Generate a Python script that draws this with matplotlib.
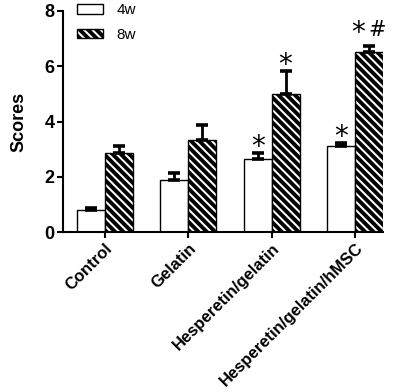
import matplotlib
matplotlib.use("Agg")
from matplotlib import pyplot as plt
import numpy as np

groups = ["Control", "Gelatin", "Hesperetin/gelatin", "Hesperetin/gelatin/hMSC"]
scores_4w = [0.80, 1.88, 2.63, 3.11]
err_4w = [0.06, 0.26, 0.25, 0.12]
scores_8w = [2.88, 3.32, 4.98, 6.50]
err_8w = [0.23, 0.56, 0.84, 0.21]
star_4w = [False, False, True, True]
star_8w = [False, False, True, True]
hash_8w = [False, False, False, True]

plt.rcParams['font.family'] = ['Liberation Sans', 'DejaVu Sans']
plt.rcParams['hatch.linewidth'] = 2.8

fig = plt.figure(figsize=(4.0, 3.92), dpi=100)
ax = fig.add_axes([0.1575, 0.4074, 0.80, 0.5653])

x = np.arange(len(groups))
w = 0.335
ekw = dict(elinewidth=2.0, capthick=2.6, ecolor='black')
ax.bar(x - w / 2, scores_4w, w, color='white', edgecolor='black', linewidth=1.0,
       yerr=[np.zeros(4), err_4w], capsize=4.3, error_kw=ekw, label='4w', zorder=2)
ax.bar(x + w / 2, scores_8w, w, color='white', edgecolor='black', linewidth=1.0, hatch='\\\\\\\\',
       yerr=[np.zeros(4), err_8w], capsize=4.3, error_kw=ekw, label='8w', zorder=2)


def mark(xp, yp, dx, dy, s, size):
    ax.annotate(s, (xp, yp), xytext=(dx, dy), textcoords='offset points',
                ha='center', va='baseline', fontsize=size, family='DejaVu Sans')


for i in range(len(groups)):
    if star_4w[i]:
        mark(x[i] - w / 2, scores_4w[i] + err_4w[i], 0, -1.5, '*', 20)
    if star_8w[i]:
        dx = -8 if hash_8w[i] else 0
        dy = 4.0 if hash_8w[i] else -1.5
        mark(x[i] + w / 2, scores_8w[i] + err_8w[i], dx, dy, '*', 20)
    if hash_8w[i]:
        mark(x[i] + w / 2, scores_8w[i] + err_8w[i], 6, 7.5, '#', 15)

ax.set_xlim(-0.5, 3 + w)
ax.set_ylim(0, 8)
ax.set_yticks([0, 2, 4, 6, 8])
ax.set_xticks(x)
ax.set_xticklabels(groups, rotation=45, ha='right', rotation_mode='anchor', fontsize=12, fontweight='bold')
ax.set_ylabel('Scores', fontsize=13, fontweight='bold', labelpad=12)
for lab in ax.get_yticklabels():
    lab.set_fontweight('bold')
    lab.set_fontsize(13)

for s in ['top', 'right']:
    ax.spines[s].set_visible(False)
for s in ['left', 'bottom']:
    ax.spines[s].set_linewidth(1.5)
ax.tick_params(axis='both', direction='out', length=4, width=1.5, pad=2)

ax.legend(loc='upper left', bbox_to_anchor=(0.0, 1.095), frameon=False, fontsize=11,
          handlelength=1.7, handleheight=0.55, labelspacing=0.7, handletextpad=0.9)

fig.savefig('out.png', dpi=100)
